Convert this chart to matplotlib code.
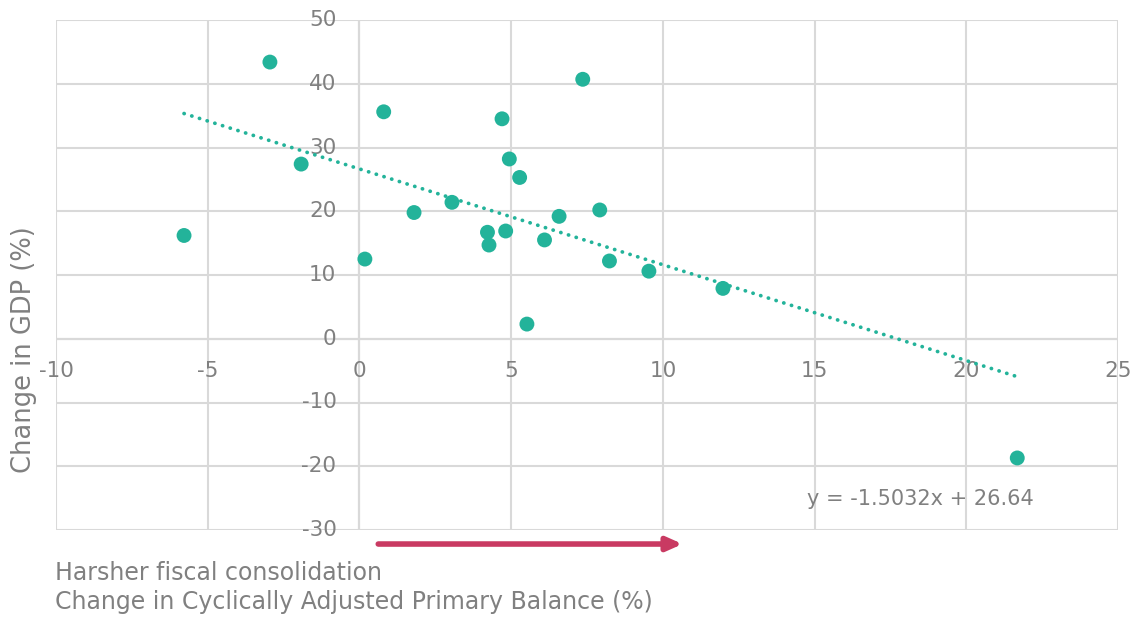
import matplotlib
matplotlib.use("Agg")
import matplotlib.pyplot as plt
import numpy as np

# Data
capb_change = [-5.78, -2.95, -1.92, 0.18, 0.80, 1.80, 3.05, 4.22, 4.27, 4.70,
               4.82, 4.94, 5.28, 5.52, 6.10, 6.58, 7.36, 7.92, 8.24, 9.54,
               11.98, 21.68]
gdp_change = [16.2, 43.4, 27.4, 12.5, 35.6, 19.8, 21.4, 16.7, 14.7, 34.5,
              16.9, 28.2, 25.3, 2.3, 15.5, 19.2, 40.7, 20.2, 12.2, 10.6,
              7.9, -18.7]
trend_slope = -1.5032
trend_intercept = 26.64

x_ticks = [-10, -5, 0, 5, 10, 15, 20, 25]
y_ticks = [-30, -20, -10, 0, 10, 20, 30, 40, 50]

teal = "#23B39A"
grey_text = "#808080"
grid_c = "#D9D9D9"
axis_c = "#BFBFBF"
arrow_c = "#C93A62"

plt.rcParams['font.family'] = ['DejaVu Sans']

fig = plt.figure(figsize=(11.36, 6.17), dpi=100)
ax = fig.add_axes([56/1136, 1-530/617, (1118-56)/1136, (530-20)/617])

ax.set_xlim(-10, 25)
ax.set_ylim(-30, 50)
ax.set_xticks(x_ticks)
ax.set_yticks(y_ticks)

for s in ax.spines.values():
    s.set_visible(False)
ax.grid(True, color=grid_c, linewidth=1.5, zorder=0)
ax.axvline(0, color=axis_c, linewidth=1.5, zorder=1)
ax.axhline(0, color=axis_c, linewidth=1.5, zorder=1)

ax.tick_params(length=0, labelcolor=grey_text, labelsize=15.5)
ax.set_xticklabels([])
ax.set_yticklabels([])
# tick labels positioned along the zero axes
for xt in x_ticks:
    ax.annotate(f"{xt}", xy=(xt, 0), xytext=(0, -32), textcoords='offset pixels',
                ha='center', va='center', color=grey_text, fontsize=15.5,
                annotation_clip=False)
for yt in y_ticks:
    ax.annotate(f"{yt}", xy=(0, yt), xytext=(-23, 0), textcoords='offset pixels',
                ha='right', va='center', color=grey_text, fontsize=15.5,
                annotation_clip=False)

# Trend line
xs = np.array([min(capb_change), max(capb_change)])
ax.plot(xs, trend_slope*xs + trend_intercept, color=teal, linewidth=2.7,
        linestyle=(0, (0.05, 2.1)), dash_capstyle='round', zorder=3)

ax.scatter(capb_change, gdp_change, s=115, color=teal, edgecolors='none', zorder=4)

ax.text(14.75, -25.1, f"y = {trend_slope}x + {trend_intercept}", color=grey_text,
        fontsize=15, ha='left', va='center')

# Arrow
ax.annotate("", xy=(10.65, -32.2), xytext=(0.62, -32.2), xycoords='data',
            arrowprops=dict(arrowstyle='-|>,head_length=0.9,head_width=0.4',
                            color=arrow_c, lw=4, shrinkA=0, shrinkB=0),
            annotation_clip=False)

fig.text(24/1136, 1-350/617, "Change in GDP (%)", rotation=90, ha='center', va='center',
         color=grey_text, fontsize=18.5)
fig.text(55/1136, 1-573/617, "Harsher fiscal consolidation", ha='left', va='center',
         color=grey_text, fontsize=17)
fig.text(55/1136, 1-602/617, "Change in Cyclically Adjusted Primary Balance (%)", ha='left',
         va='center', color=grey_text, fontsize=17)

fig.savefig("out.png", dpi=100)
